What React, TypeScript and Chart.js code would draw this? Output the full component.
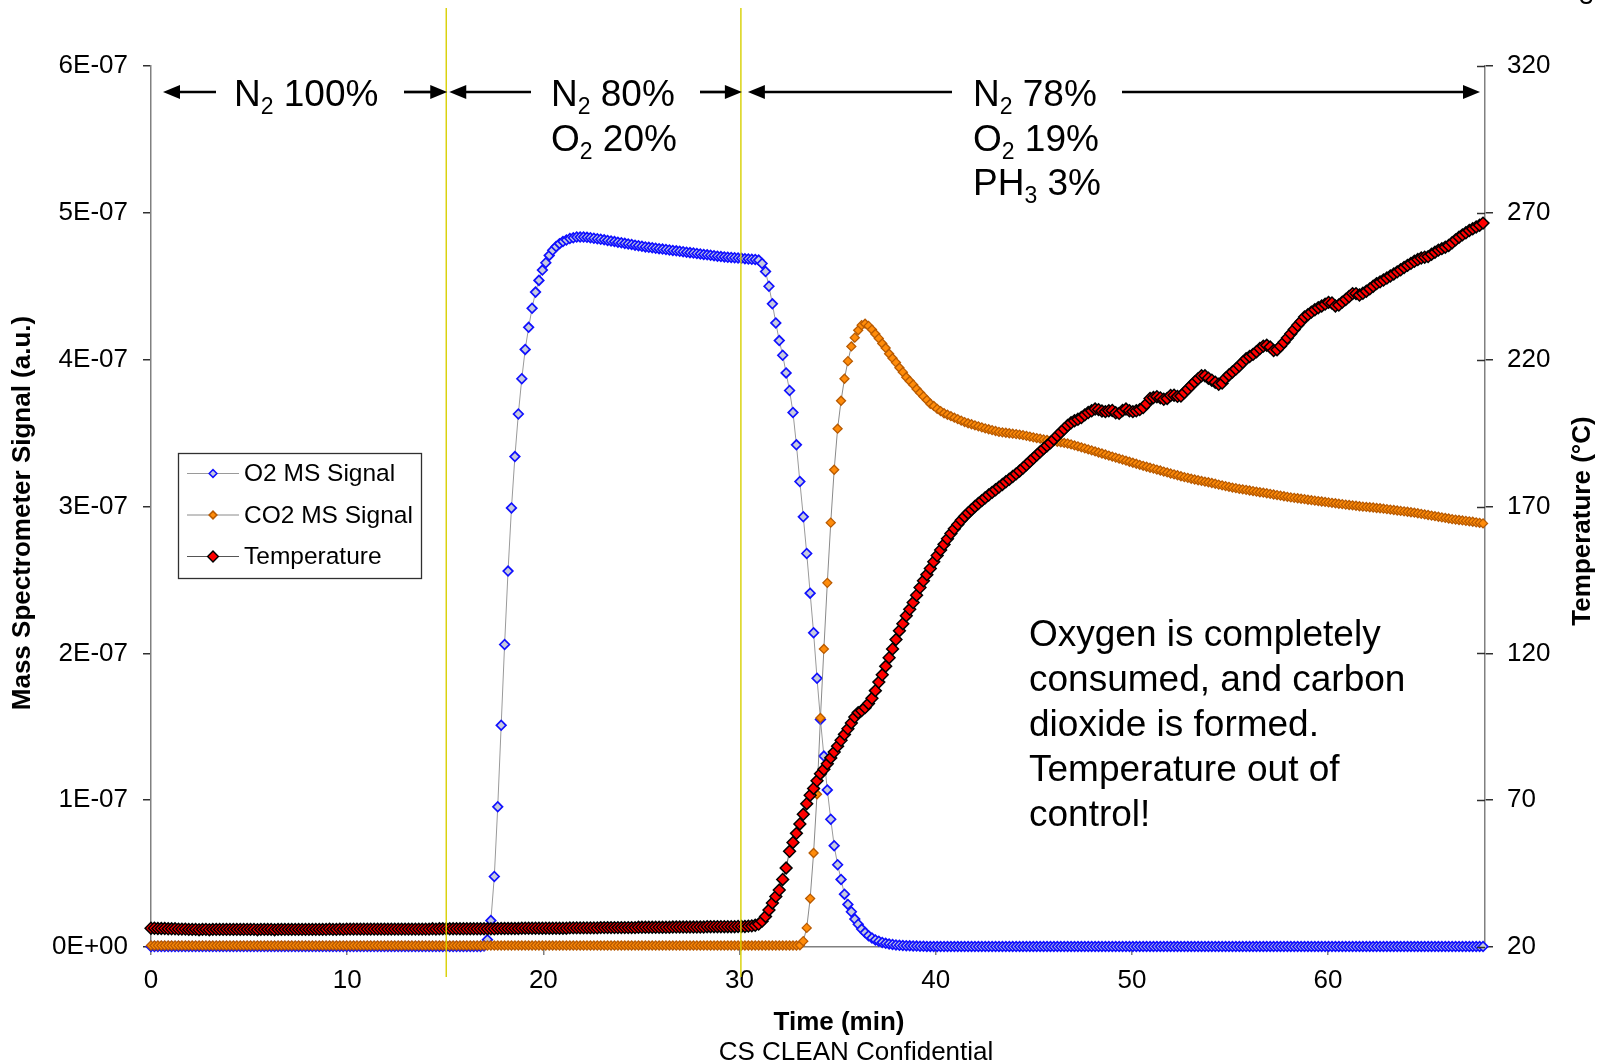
import { useEffect, useRef } from "react";
import { Chart, registerables } from "chart.js";

Chart.register(...registerables);

// ---------- data ----------
// instrument sampling interval (minutes) – one reading every 10.5 s
const SAMPLE_STEP_MIN = 0.175;

// O2 mass-spec signal, in units of 1E-07 (a.u.)
const O2_SIGNAL_E7 = [
  0.003, 0.003, 0.003, 0.003, 0.003, 0.003, 0.003, 0.003, 0.003, 0.003,
  0.003, 0.003, 0.003, 0.003, 0.003, 0.003, 0.003, 0.003, 0.003, 0.003,
  0.003, 0.003, 0.003, 0.003, 0.003, 0.003, 0.003, 0.003, 0.003, 0.003,
  0.003, 0.003, 0.003, 0.003, 0.003, 0.003, 0.003, 0.003, 0.003, 0.003,
  0.003, 0.003, 0.003, 0.003, 0.003, 0.003, 0.003, 0.003, 0.003, 0.003,
  0.003, 0.003, 0.003, 0.003, 0.003, 0.003, 0.003, 0.003, 0.003, 0.003,
  0.003, 0.003, 0.003, 0.003, 0.003, 0.003, 0.003, 0.003, 0.003, 0.003,
  0.003, 0.003, 0.003, 0.003, 0.003, 0.003, 0.003, 0.003, 0.003, 0.003,
  0.003, 0.003, 0.003, 0.003, 0.003, 0.003, 0.003, 0.003, 0.003, 0.003,
  0.003, 0.003, 0.003, 0.003, 0.003, 0.003, 0.003, 0.006, 0.05, 0.18,
  0.48, 0.955, 1.51, 2.06, 2.56, 2.99, 3.34, 3.63, 3.87, 4.07,
  4.22, 4.35, 4.46, 4.54, 4.61, 4.66, 4.71, 4.745, 4.77, 4.79,
  4.805, 4.815, 4.825, 4.83, 4.835, 4.835, 4.835, 4.833, 4.83, 4.827,
  4.823, 4.82, 4.816, 4.812, 4.808, 4.804, 4.8, 4.796, 4.792, 4.788,
  4.784, 4.78, 4.776, 4.772, 4.768, 4.765, 4.762, 4.759, 4.756, 4.753,
  4.75, 4.747, 4.744, 4.741, 4.738, 4.735, 4.732, 4.729, 4.726, 4.723,
  4.72, 4.717, 4.714, 4.711, 4.708, 4.705, 4.702, 4.7, 4.698, 4.696,
  4.694, 4.692, 4.69, 4.688, 4.686, 4.684, 4.682, 4.678, 4.655, 4.6,
  4.5, 4.38, 4.25, 4.13, 4.03, 3.91, 3.79, 3.64, 3.42, 3.17,
  2.93, 2.68, 2.41, 2.14, 1.83, 1.55, 1.3, 1.07, 0.87, 0.69,
  0.56, 0.46, 0.36, 0.29, 0.24, 0.19, 0.155, 0.122, 0.098, 0.077,
  0.061, 0.048, 0.039, 0.031, 0.025, 0.021, 0.017, 0.014, 0.012, 0.01,
  0.009, 0.008, 0.007, 0.006, 0.005, 0.005, 0.004, 0.004, 0.004, 0.003,
  0.003, 0.003, 0.003, 0.003, 0.003, 0.003, 0.003, 0.003, 0.003, 0.003,
  0.003, 0.003, 0.003, 0.003, 0.003, 0.003, 0.003, 0.003, 0.003, 0.003,
  0.003, 0.003, 0.003, 0.003, 0.003, 0.003, 0.003, 0.003, 0.003, 0.003,
  0.003, 0.003, 0.003, 0.003, 0.003, 0.003, 0.003, 0.003, 0.003, 0.003,
  0.003, 0.003, 0.003, 0.003, 0.003, 0.003, 0.003, 0.003, 0.003, 0.003,
  0.003, 0.003, 0.003, 0.003, 0.003, 0.003, 0.003, 0.003, 0.003, 0.003,
  0.003, 0.003, 0.003, 0.003, 0.003, 0.003, 0.003, 0.003, 0.003, 0.003,
  0.003, 0.003, 0.003, 0.003, 0.003, 0.003, 0.003, 0.003, 0.003, 0.003,
  0.003, 0.003, 0.003, 0.003, 0.003, 0.003, 0.003, 0.003, 0.003, 0.003,
  0.003, 0.003, 0.003, 0.003, 0.003, 0.003, 0.003, 0.003, 0.003, 0.003,
  0.003, 0.003, 0.003, 0.003, 0.003, 0.003, 0.003, 0.003, 0.003, 0.003,
  0.003, 0.003, 0.003, 0.003, 0.003, 0.003, 0.003, 0.003, 0.003, 0.003,
  0.003, 0.003, 0.003, 0.003, 0.003, 0.003, 0.003, 0.003, 0.003, 0.003,
  0.003, 0.003, 0.003, 0.003, 0.003, 0.003, 0.003, 0.003, 0.003, 0.003,
  0.003, 0.003, 0.003, 0.003, 0.003, 0.003, 0.003, 0.003, 0.003, 0.003,
  0.003, 0.003, 0.003, 0.003, 0.003, 0.003, 0.003, 0.003, 0.003,
];

// CO2 mass-spec signal, in units of 1E-07 (a.u.)
const CO2_SIGNAL_E7 = [
  0.01, 0.01, 0.01, 0.01, 0.01, 0.01, 0.01, 0.01, 0.01, 0.01,
  0.01, 0.01, 0.01, 0.01, 0.01, 0.01, 0.01, 0.01, 0.01, 0.01,
  0.01, 0.01, 0.01, 0.01, 0.01, 0.01, 0.01, 0.01, 0.01, 0.01,
  0.01, 0.01, 0.01, 0.01, 0.01, 0.01, 0.01, 0.01, 0.01, 0.01,
  0.01, 0.01, 0.01, 0.01, 0.01, 0.01, 0.01, 0.01, 0.01, 0.01,
  0.01, 0.01, 0.01, 0.01, 0.01, 0.01, 0.01, 0.01, 0.01, 0.01,
  0.01, 0.01, 0.01, 0.01, 0.01, 0.01, 0.01, 0.01, 0.01, 0.01,
  0.01, 0.01, 0.01, 0.01, 0.01, 0.01, 0.01, 0.01, 0.01, 0.01,
  0.01, 0.01, 0.01, 0.01, 0.01, 0.01, 0.01, 0.01, 0.01, 0.01,
  0.01, 0.01, 0.01, 0.01, 0.01, 0.01, 0.01, 0.01, 0.01, 0.01,
  0.01, 0.01, 0.01, 0.01, 0.01, 0.01, 0.01, 0.01, 0.01, 0.01,
  0.01, 0.01, 0.01, 0.01, 0.01, 0.01, 0.01, 0.01, 0.01, 0.01,
  0.01, 0.01, 0.01, 0.01, 0.01, 0.01, 0.01, 0.01, 0.01, 0.01,
  0.01, 0.01, 0.01, 0.01, 0.01, 0.01, 0.01, 0.01, 0.01, 0.01,
  0.01, 0.01, 0.01, 0.01, 0.01, 0.01, 0.01, 0.01, 0.01, 0.01,
  0.01, 0.01, 0.01, 0.01, 0.01, 0.01, 0.01, 0.01, 0.01, 0.01,
  0.01, 0.01, 0.01, 0.01, 0.01, 0.01, 0.01, 0.01, 0.01, 0.01,
  0.01, 0.01, 0.01, 0.01, 0.01, 0.01, 0.01, 0.01, 0.01, 0.01,
  0.01, 0.01, 0.01, 0.01, 0.01, 0.01, 0.01, 0.01, 0.01, 0.012,
  0.04, 0.13, 0.33, 0.64, 1.04, 1.56, 2.03, 2.48, 2.89, 3.25,
  3.53, 3.72, 3.87, 3.99, 4.09, 4.15, 4.2, 4.235, 4.245, 4.23,
  4.205, 4.175, 4.145, 4.11, 4.08, 4.04, 4.01, 3.98, 3.945, 3.915,
  3.88, 3.855, 3.83, 3.8, 3.775, 3.75, 3.725, 3.7, 3.685, 3.665,
  3.65, 3.635, 3.625, 3.615, 3.605, 3.595, 3.585, 3.575, 3.567, 3.56,
  3.553, 3.546, 3.539, 3.532, 3.526, 3.52, 3.514, 3.508, 3.505, 3.502,
  3.499, 3.496, 3.493, 3.49, 3.486, 3.481, 3.476, 3.471, 3.466, 3.462,
  3.457, 3.453, 3.449, 3.445, 3.441, 3.437, 3.433, 3.429, 3.423, 3.416,
  3.41, 3.403, 3.396, 3.389, 3.382, 3.375, 3.368, 3.361, 3.354, 3.347,
  3.34, 3.333, 3.326, 3.319, 3.312, 3.305, 3.298, 3.291, 3.284, 3.277,
  3.271, 3.264, 3.258, 3.251, 3.245, 3.238, 3.232, 3.225, 3.219, 3.213,
  3.206, 3.2, 3.195, 3.189, 3.184, 3.179, 3.174, 3.169, 3.165, 3.16,
  3.155, 3.149, 3.144, 3.139, 3.134, 3.129, 3.125, 3.12, 3.117, 3.113,
  3.109, 3.105, 3.101, 3.097, 3.094, 3.09, 3.086, 3.082, 3.078, 3.074,
  3.07, 3.066, 3.062, 3.059, 3.056, 3.053, 3.05, 3.046, 3.043, 3.04,
  3.037, 3.034, 3.031, 3.028, 3.025, 3.022, 3.019, 3.016, 3.013, 3.01,
  3.008, 3.005, 3.002, 2.999, 2.997, 2.995, 2.993, 2.99, 2.988, 2.985,
  2.982, 2.979, 2.976, 2.973, 2.97, 2.967, 2.964, 2.961, 2.958, 2.954,
  2.95, 2.946, 2.942, 2.938, 2.934, 2.93, 2.926, 2.922, 2.918, 2.914,
  2.911, 2.908, 2.905, 2.902, 2.899, 2.896, 2.892, 2.889, 2.885,
];

// Temperature, °C
const TEMPERATURE_C = [
  26.4, 26.4, 26.3, 26.3, 26.3, 26.2, 26.2, 26.2, 26.1, 26.1,
  26.1, 26.0, 26.0, 26.0, 25.9, 26.0, 26.0, 25.9, 26.0, 26.0,
  26.0, 26.0, 26.0, 26.0, 26.0, 26.0, 26.0, 26.0, 26.0, 26.0,
  26.0, 25.9, 26.0, 26.0, 26.0, 26.0, 25.9, 26.0, 26.0, 26.0,
  26.0, 26.0, 26.0, 26.0, 26.0, 26.0, 26.0, 26.0, 26.0, 26.0,
  26.0, 26.0, 26.1, 26.0, 26.0, 26.1, 26.0, 26.1, 26.1, 26.1,
  26.1, 26.1, 26.1, 26.1, 26.1, 26.1, 26.1, 26.1, 26.1, 26.1,
  26.1, 26.1, 26.1, 26.1, 26.1, 26.1, 26.1, 26.1, 26.1, 26.1,
  26.1, 26.1, 26.2, 26.1, 26.2, 26.2, 26.2, 26.2, 26.2, 26.2,
  26.2, 26.2, 26.2, 26.2, 26.2, 26.2, 26.2, 26.2, 26.2, 26.2,
  26.2, 26.3, 26.3, 26.3, 26.3, 26.3, 26.3, 26.3, 26.4, 26.4,
  26.4, 26.4, 26.4, 26.4, 26.4, 26.4, 26.4, 26.4, 26.4, 26.4,
  26.4, 26.4, 26.5, 26.5, 26.5, 26.5, 26.5, 26.5, 26.5, 26.5,
  26.5, 26.6, 26.6, 26.6, 26.6, 26.6, 26.6, 26.6, 26.6, 26.6,
  26.6, 26.6, 26.7, 26.7, 26.7, 26.7, 26.7, 26.7, 26.7, 26.7,
  26.7, 26.7, 26.8, 26.8, 26.8, 26.8, 26.8, 26.8, 26.8, 26.8,
  26.8, 26.8, 26.9, 26.9, 26.9, 26.9, 26.9, 26.9, 26.9, 26.9,
  26.9, 27.0, 27.0, 27.0, 27.1, 27.2, 27.4, 27.8, 28.8, 30.4,
  32.6, 35.0, 37.2, 39.4, 43.0, 46.9, 52.6, 55.6, 58.7, 61.9,
  65.2, 68.8, 71.7, 74.0, 76.6, 79.0, 80.5, 82.4, 84.4, 86.4,
  88.4, 90.4, 92.4, 94.3, 96.3, 98.3, 99.8, 100.5, 101.5, 102.9,
  104.7, 107.3, 110.2, 112.7, 115.6, 118.5, 121.5, 124.7, 127.7, 130.1,
  132.8, 135.0, 137.3, 139.8, 142.4, 144.7, 146.8, 148.9, 151.2, 153.3,
  155.2, 157.1, 159.0, 160.8, 162.4, 163.9, 165.3, 166.6, 167.8, 168.9,
  170.0, 171.0, 172.0, 173.0, 173.9, 174.8, 175.7, 176.6, 177.5, 178.4,
  179.3, 180.2, 181.1, 182.1, 183.1, 184.2, 185.3, 186.4, 187.5, 188.6,
  189.7, 190.7, 191.7, 192.9, 194.1, 195.3, 196.4, 197.6, 198.5, 199.2,
  199.7, 200.3, 201.2, 202.0, 202.6, 203.2, 203.0, 202.5, 202.3, 202.6,
  202.7, 201.9, 201.7, 202.7, 203.2, 202.6, 202.3, 202.6, 203.0, 203.7,
  205.0, 206.8, 207.1, 207.4, 207.0, 206.5, 206.8, 207.8, 207.9, 207.5,
  207.6, 208.8, 210.0, 211.2, 212.4, 213.5, 214.5, 214.5, 213.7, 213.0,
  212.3, 211.6, 212.0, 213.7, 214.8, 215.8, 216.8, 217.9, 219.1, 220.3,
  221.1, 221.8, 222.7, 223.8, 224.6, 224.9, 224.3, 223.1, 223.4, 224.6,
  225.9, 227.4, 228.8, 230.3, 231.7, 233.0, 234.5, 235.3, 236.2, 237.0,
  237.7, 238.3, 238.9, 239.5, 239.3, 238.3, 238.6, 239.6, 240.5, 241.5,
  242.5, 242.5, 242.0, 242.6, 243.3, 244.1, 245.0, 245.9, 246.5, 247.1,
  247.8, 248.5, 249.2, 249.9, 250.6, 251.4, 252.1, 252.8, 253.5, 254.1,
  254.6, 254.9, 255.1, 255.9, 256.6, 257.3, 257.8, 258.3, 258.9, 259.8,
  260.8, 261.7, 262.5, 263.2, 264.0, 264.6, 265.2, 265.8, 266.5,
];

const SIGNAL_UNIT = 1e-7;
const SERIES_LABELS = ["O2 MS Signal", "CO2 MS Signal", "Temperature"];

const X_MIN = 0;
const X_MAX = 68;
const X_TICKS = [0, 10, 20, 30, 40, 50, 60];
const LEFT_TICKS = [0, 1e-7, 2e-7, 3e-7, 4e-7, 5e-7, 6e-7];
const LEFT_TICK_LABELS = ["0E+00", "1E-07", "2E-07", "3E-07", "4E-07", "5E-07", "6E-07"];
const RIGHT_TICKS = [20, 70, 120, 170, 220, 270, 320];

const X_TITLE = "Time (min)";
const LEFT_TITLE = "Mass Spectrometer Signal (a.u.)";
const RIGHT_TITLE = "Temperature (°C)";
const FOOTER = "CS CLEAN Confidential";

// times (min) when the gas feed was switched
const GAS_SWITCH_TIMES = [15.05, 30.07];

type Run = { t: string; sub?: boolean };
const PHASE_LABELS: Run[][][] = [
  [[{ t: "N" }, { t: "2", sub: true }, { t: " 100%" }]],
  [
    [{ t: "N" }, { t: "2", sub: true }, { t: " 80%" }],
    [{ t: "O" }, { t: "2", sub: true }, { t: " 20%" }],
  ],
  [
    [{ t: "N" }, { t: "2", sub: true }, { t: " 78%" }],
    [{ t: "O" }, { t: "2", sub: true }, { t: " 19%" }],
    [{ t: "PH" }, { t: "3", sub: true }, { t: " 3%" }],
  ],
];

const NOTE_LINES = [
  "Oxygen is completely",
  "consumed, and carbon",
  "dioxide is formed.",
  "Temperature out of",
  "control!",
];

// ---------- styling ----------
const FONT = "'Liberation Sans', Arial, Helvetica, sans-serif";
const W = 1600;
const H = 1064;
const AREA = { left: 151, right: 1485, top: 66, bottom: 947 };

const STYLES = [
  { line: "#9a9a9a", fill: "#c6cade", stroke: "#1010ff", r: 4.8, bw: 1.7 },
  { line: "#8a8a8a", fill: "#ff8c0a", stroke: "#b85a00", r: 4.5, bw: 1.3 },
  { line: "#555555", fill: "#ff0000", stroke: "#000000", r: 5.9, bw: 1.5 },
];

function diamond(ctx: any, x: number, y: number, r: number, fill: string, stroke: string, bw: number) {
  ctx.beginPath();
  ctx.moveTo(x - r, y);
  ctx.lineTo(x, y - r);
  ctx.lineTo(x + r, y);
  ctx.lineTo(x, y + r);
  ctx.closePath();
  ctx.fillStyle = fill;
  ctx.fill();
  ctx.lineWidth = bw;
  ctx.strokeStyle = stroke;
  ctx.stroke();
}

function arrow(ctx: any, xTail: number, xTip: number, y: number) {
  const dir = Math.sign(xTip - xTail);
  const head = 17;
  const half = 7;
  ctx.beginPath();
  ctx.moveTo(xTail, y);
  ctx.lineTo(xTip - dir * head * 0.7, y);
  ctx.lineWidth = 2.7;
  ctx.strokeStyle = "#000";
  ctx.stroke();
  ctx.beginPath();
  ctx.moveTo(xTip, y);
  ctx.lineTo(xTip - dir * head, y - half);
  ctx.lineTo(xTip - dir * head, y + half);
  ctx.closePath();
  ctx.fillStyle = "#000";
  ctx.fill();
}

function drawRuns(ctx: any, runs: Run[], x: number, y: number) {
  let cx = x;
  for (const r of runs) {
    ctx.font = r.sub ? `23px ${FONT}` : `37px ${FONT}`;
    ctx.fillText(r.t, cx, r.sub ? y + 8 : y);
    cx += ctx.measureText(r.t).width;
  }
}

const overlayPlugin = {
  id: "overlay",
  afterDraw(chart: any) {
    const ctx = chart.ctx;
    const xs = chart.scales.x;
    const yR = chart.scales.yR;
    const area = chart.chartArea;
    ctx.save();

    // inner half of the right-axis tick marks
    ctx.strokeStyle = "#303030";
    ctx.lineWidth = 1.5;
    for (const v of RIGHT_TICKS) {
      const y = Math.round(yR.getPixelForValue(v)) + 0.5;
      ctx.beginPath();
      ctx.moveTo(area.right - 8, y);
      ctx.lineTo(area.right, y);
      ctx.stroke();
    }

    // gas switch markers
    const sw = GAS_SWITCH_TIMES.map((t) => xs.getPixelForValue(t));
    ctx.strokeStyle = "#d8d000";
    ctx.lineWidth = 1.4;
    for (const x of sw) {
      ctx.beginPath();
      ctx.moveTo(x, 8);
      ctx.lineTo(x, 977);
      ctx.stroke();
    }

    // arrows
    const ay = 92;
    arrow(ctx, 216, 163, ay);
    arrow(ctx, 404, sw[0] + 1, ay);
    arrow(ctx, 531, sw[0] + 3, ay);
    arrow(ctx, 700, sw[1] + 1, ay);
    arrow(ctx, 952, sw[1] + 7, ay);
    arrow(ctx, 1122, 1480, ay);

    // phase labels
    ctx.fillStyle = "#000";
    ctx.textAlign = "left";
    ctx.textBaseline = "alphabetic";
    const phaseX = [234, 551, 973];
    PHASE_LABELS.forEach((lines, i) => {
      lines.forEach((runs, j) => drawRuns(ctx, runs, phaseX[i], 106 + j * 44.6));
    });

    // note
    ctx.font = `37px ${FONT}`;
    NOTE_LINES.forEach((t, i) => ctx.fillText(t, 1029, 646 + i * 45));

    // axis titles
    ctx.font = `bold 26px ${FONT}`;
    ctx.textAlign = "center";
    ctx.textBaseline = "middle";
    ctx.fillText(X_TITLE, 839, 1023);
    ctx.save();
    ctx.translate(23, 513);
    ctx.rotate(-Math.PI / 2);
    ctx.fillText(LEFT_TITLE, 0, 0);
    ctx.restore();
    ctx.save();
    ctx.translate(1583, 521);
    ctx.rotate(-Math.PI / 2);
    ctx.fillText(RIGHT_TITLE, 0, 0);
    ctx.restore();

    ctx.font = `26px ${FONT}`;
    ctx.textBaseline = "alphabetic";
    ctx.fillText(FOOTER, 856, 1060);

    // legend
    const lx = 178, ly = 453, lw = 243, lh = 125;
    ctx.fillStyle = "#fff";
    ctx.fillRect(lx, ly, lw, lh);
    ctx.strokeStyle = "#303030";
    ctx.lineWidth = 1.3;
    ctx.strokeRect(lx + 0.5, ly + 0.5, lw, lh);
    const rows = [473.5, 515, 556.5];
    SERIES_LABELS.forEach((label, i) => {
      const st = STYLES[i];
      const y = rows[i];
      ctx.beginPath();
      ctx.moveTo(187, y);
      ctx.lineTo(239, y);
      ctx.strokeStyle = st.line;
      ctx.lineWidth = 1;
      ctx.stroke();
      diamond(ctx, 213, y, i === 2 ? 5.4 : 3.9, st.fill, st.stroke, i === 2 ? 1.4 : 1.5);
      ctx.fillStyle = "#000";
      ctx.font = `24.5px ${FONT}`;
      ctx.textAlign = "left";
      ctx.textBaseline = "middle";
      ctx.fillText(label, 244, y + 1);
    });

    // page number fragment at the top-right corner
    ctx.font = `26px ${FONT}`;
    ctx.textAlign = "left";
    ctx.textBaseline = "alphabetic";
    ctx.fillText("3", 1579, 4);

    ctx.restore();
  },
};

function sci(v: number) {
  const idx = LEFT_TICKS.findIndex((t) => Math.abs(t - v) < 1e-12);
  return idx >= 0 ? LEFT_TICK_LABELS[idx] : "";
}

export default function App() {
  const ref = useRef<HTMLCanvasElement | null>(null);

  useEffect(() => {
    const canvas = ref.current;
    if (!canvas) return;
    const times = TEMPERATURE_C.map((_, i) => +(i * SAMPLE_STEP_MIN).toFixed(3));
    const mk = (vals: number[], scale: number) => vals.map((v, i) => ({ x: times[i], y: v * scale }));

    const base = (i: number) => ({
      borderColor: STYLES[i].line,
      borderWidth: 1,
      pointStyle: "rectRot",
      pointRadius: STYLES[i].r,
      pointBackgroundColor: STYLES[i].fill,
      pointBorderColor: STYLES[i].stroke,
      pointBorderWidth: STYLES[i].bw,
      tension: 0,
      fill: false,
      clip: false,
    });

    const tickFont = { family: FONT, size: 26 };

    const chart = new Chart(canvas, {
      type: "line",
      data: {
        datasets: [
          { label: SERIES_LABELS[2], data: mk(TEMPERATURE_C, 1), yAxisID: "yR", order: 1, ...base(2) },
          { label: SERIES_LABELS[1], data: mk(CO2_SIGNAL_E7, SIGNAL_UNIT), yAxisID: "y", order: 2, ...base(1) },
          { label: SERIES_LABELS[0], data: mk(O2_SIGNAL_E7, SIGNAL_UNIT), yAxisID: "y", order: 3, ...base(0) },
        ],
      } as any,
      options: {
        animation: false,
        responsive: false,
        maintainAspectRatio: false,
        events: [],
        layout: { padding: { top: AREA.top, left: 0, right: 0, bottom: 0 } },
        plugins: { legend: { display: false }, tooltip: { enabled: false }, title: { display: false } },
        scales: {
          x: {
            type: "linear",
            min: X_MIN,
            max: X_MAX,
            afterBuildTicks: (s: any) => { s.ticks = X_TICKS.map((v) => ({ value: v })); },
            afterFit: (s: any) => { s.height = H - AREA.bottom; },
            ticks: { font: tickFont, color: "#000", padding: 10, maxRotation: 0, autoSkip: false },
            grid: { drawOnChartArea: false, drawTicks: true, tickLength: 8, color: "#808080", lineWidth: 1.5 },
            border: { display: true, color: "#808080", width: 1.5 },
          },
          y: {
            type: "linear",
            position: "left",
            min: LEFT_TICKS[0],
            max: LEFT_TICKS[LEFT_TICKS.length - 1],
            afterBuildTicks: (s: any) => { s.ticks = LEFT_TICKS.map((v) => ({ value: v })); },
            afterFit: (s: any) => { s.width = AREA.left; },
            ticks: { font: tickFont, color: "#000", padding: 15, callback: (v: any) => sci(Number(v)), autoSkip: false },
            grid: { drawOnChartArea: false, drawTicks: true, tickLength: 8, color: "#303030", lineWidth: 1.5 },
            border: { display: true, color: "#808080", width: 1.5 },
          },
          yR: {
            type: "linear",
            position: "right",
            min: RIGHT_TICKS[0],
            max: RIGHT_TICKS[RIGHT_TICKS.length - 1],
            afterBuildTicks: (s: any) => { s.ticks = RIGHT_TICKS.map((v) => ({ value: v })); },
            afterFit: (s: any) => { s.width = W - AREA.right; },
            ticks: { font: tickFont, color: "#000", padding: 14, autoSkip: false },
            grid: { drawOnChartArea: false, drawTicks: true, tickLength: 8, color: "#303030", lineWidth: 1.5 },
            border: { display: true, color: "#808080", width: 1.5 },
          },
        },
      } as any,
      plugins: [overlayPlugin as any],
    });
    return () => chart.destroy();
  }, []);

  return (
    <div style={{ position: "absolute", left: 0, top: 0, width: W, height: H, background: "#fff" }}>
      <canvas ref={ref} width={W} height={H} style={{ display: "block", width: W, height: H }} />
    </div>
  );
}
